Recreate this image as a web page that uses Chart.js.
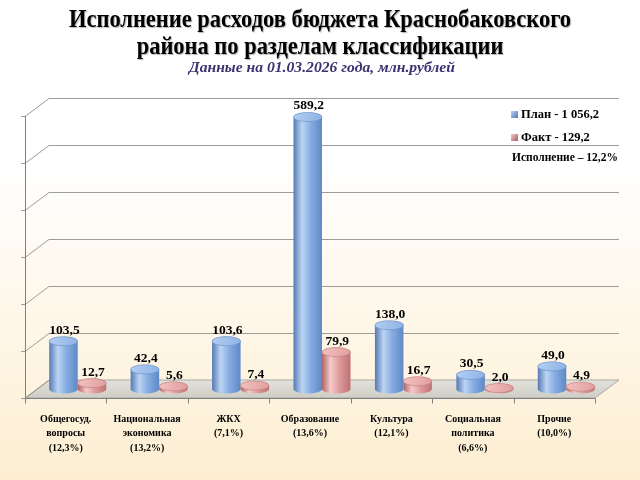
<!DOCTYPE html>
<html>
<head>
  <meta charset="utf-8">
  <title>Исполнение расходов бюджета</title>
  <script src="https://cdn.jsdelivr.net/npm/chart.js"></script>
  <style>
    html, body { margin: 0; padding: 0; background: #fff; }
    canvas { display: block; }
  </style>
</head>
<body>
  <canvas id="myChart" width="640" height="480"></canvas>

  <script>
    // данные с картинки
    const categories = [
      ['Общегосуд.', 'вопросы', '(12,3%)'],
      ['Национальная', 'экономика', '(13,2%)'],
      ['ЖКХ', '(7,1%)'],
      ['Образование', '(13,6%)'],
      ['Культура', '(12,1%)'],
      ['Социальная', 'политика', '(6,6%)'],
      ['Прочие', '(10,0%)']
    ];
    const plan = [103.5, 42.4, 103.6, 589.2, 138.0, 30.5, 49.0];
    const fact = [12.7, 5.6, 7.4, 79.9, 16.7, 2.0, 4.9];
    const seriesNames = ['План - 1 056,2', 'Факт - 129,2'];
    const execText = 'Исполнение – 12,2%';
    const titleLines = ['Исполнение расходов бюджета Краснобаковского', 'района по разделам классификации'];
    const subtitle = 'Данные на 01.03.2026 года, млн.рублей';

    const SERIF = '"Liberation Serif", "DejaVu Serif", serif';
    const DX = 12, DY = 9, WALL_K = 1.018;

    const palette = [
      { dark: '#5479b4', light: '#bcd4f3', mid: '#86ade2', right: '#5f88c6', top1: '#b3cff3', top2: '#8db2e6', edge: '#6a8fc6' },
      { dark: '#b06464', light: '#f5caca', mid: '#df9c9c', right: '#bd7272', top1: '#f3c2c2', top2: '#e19d9d', edge: '#c07a7a' }
    ];

    const fmt = v => v.toFixed(1).replace('.', ',');

    const scene = {
      id: 'scene',
      beforeDraw(chart) {
        const { ctx, width, height } = chart;
        const g = ctx.createLinearGradient(0, 0, 0, height);
        g.addColorStop(0, '#ffffff');
        g.addColorStop(0.35, '#ffffff');
        g.addColorStop(1, '#fdeed1');
        ctx.save();
        ctx.fillStyle = g;
        ctx.fillRect(0, 0, width, height);
        ctx.restore();
      },
      beforeDatasetsDraw(chart) {
        const { ctx, chartArea: a, scales: { y } } = chart;
        const y0 = y.getPixelForValue(0);
        const wy = v => y0 - (y0 - y.getPixelForValue(v)) * WALL_K;
        const L = a.left, R = a.right;
        ctx.save();

        // пол
        const fg = ctx.createLinearGradient(0, y0 - DY, 0, y0 + DY);
        fg.addColorStop(0, '#e3e3dc');
        fg.addColorStop(1, '#cdcdc5');
        ctx.beginPath();
        ctx.moveTo(L - DX, y0 + DY);
        ctx.lineTo(R - DX, y0 + DY);
        ctx.lineTo(R + DX, y0 - DY);
        ctx.lineTo(L + DX, y0 - DY);
        ctx.closePath();
        ctx.fillStyle = fg;
        ctx.fill();
        ctx.strokeStyle = '#a8a8a8';
        ctx.lineWidth = 1;
        ctx.stroke();

        // сетка на задней стенке и боковой
        ctx.strokeStyle = '#9c9c9c';
        for (let v = 0; v <= 600; v += 100) {
          const yy = Math.round(wy(v)) + 0.5;
          ctx.beginPath();
          if (v > 0) {
            ctx.moveTo(L + DX, yy - DY);
            ctx.lineTo(R + DX, yy - DY);
          }
          ctx.moveTo(L - DX, yy + DY);
          ctx.lineTo(L + DX, yy - DY);
          ctx.moveTo(L - DX - 4, yy + DY);
          ctx.lineTo(L - DX, yy + DY);
          ctx.stroke();
        }

        // вертикальная ось
        ctx.strokeStyle = '#808080';
        ctx.beginPath();
        ctx.moveTo(L - DX + 0.5, wy(600) + DY);
        ctx.lineTo(L - DX + 0.5, y0 + DY);
        ctx.stroke();

        // горизонтальная ось с делениями
        const fy = Math.round(y0 + DY) + 0.5;
        ctx.beginPath();
        ctx.moveTo(L - DX, fy);
        ctx.lineTo(R - DX, fy);
        const n = categories.length;
        for (let i = 0; i <= n; i++) {
          const xx = Math.round(L + (R - L) * i / n - DX) + 0.5;
          ctx.moveTo(xx, fy);
          ctx.lineTo(xx, fy + 5);
        }
        ctx.stroke();
        ctx.restore();
      },
      afterDatasetsDraw(chart) {
        const { ctx } = chart;
        ctx.save();
        chart.data.datasets.forEach((ds, di) => {
          const c = palette[di];
          chart.getDatasetMeta(di).data.forEach((bar, i) => {
            const w = bar.width, rx = w / 2, ry = w * 0.16;
            const x = bar.x, top = bar.y, base = bar.base;

            const bg = ctx.createLinearGradient(x - rx, 0, x + rx, 0);
            bg.addColorStop(0, c.dark);
            bg.addColorStop(0.3, c.light);
            bg.addColorStop(0.6, c.mid);
            bg.addColorStop(1, c.right);
            ctx.beginPath();
            ctx.moveTo(x - rx, top);
            ctx.lineTo(x - rx, base);
            ctx.ellipse(x, base, rx, ry, 0, Math.PI, 0, true);
            ctx.lineTo(x + rx, top);
            ctx.ellipse(x, top, rx, ry, 0, 0, Math.PI, true);
            ctx.closePath();
            ctx.fillStyle = bg;
            ctx.fill();

            const tg = ctx.createLinearGradient(x - rx, top - ry, x + rx, top + ry);
            tg.addColorStop(0, c.top1);
            tg.addColorStop(1, c.top2);
            ctx.beginPath();
            ctx.ellipse(x, top, rx, ry, 0, 0, Math.PI * 2);
            ctx.fillStyle = tg;
            ctx.fill();
            ctx.strokeStyle = c.edge;
            ctx.lineWidth = 0.6;
            ctx.stroke();

            ctx.fillStyle = '#000';
            ctx.font = 'bold 13.5px ' + SERIF;
            ctx.textAlign = 'center';
            ctx.textBaseline = 'alphabetic';
            ctx.fillText(fmt(ds.data[i]), x + 1, top - ry - 3);
          });
        });
        ctx.restore();
      },
      afterDraw(chart) {
        const { ctx } = chart;
        ctx.save();

        // заголовок
        ctx.font = 'bold 26px ' + SERIF;
        const sx = 502 / ctx.measureText(titleLines[0]).width;
        ctx.textAlign = 'center';
        ctx.textBaseline = 'middle';
        ctx.shadowColor = 'rgba(0,0,0,0.3)';
        ctx.shadowOffsetX = 1;
        ctx.shadowOffsetY = 1;
        ctx.shadowBlur = 1;
        ctx.fillStyle = '#000';
        titleLines.forEach((t, i) => {
          ctx.save();
          ctx.translate(320, 20 + i * 27);
          ctx.scale(sx, 1);
          ctx.fillText(t, 0, 0);
          ctx.restore();
        });
        ctx.shadowColor = 'transparent';

        ctx.font = 'italic bold 14.5px ' + SERIF;
        ctx.fillStyle = '#3d3170';
        const ss = 266 / ctx.measureText(subtitle).width;
        ctx.save();
        ctx.translate(322, 68);
        ctx.scale(Math.min(ss, 1.1), 1);
        ctx.fillText(subtitle, 0, 0);
        ctx.restore();

        // легенда
        ctx.textAlign = 'left';
        ctx.font = 'bold 12.5px ' + SERIF;
        seriesNames.forEach((name, i) => {
          const c = palette[i];
          const ly = 114 + i * 23;
          const mg = ctx.createLinearGradient(511, ly - 3, 518, ly + 3);
          mg.addColorStop(0, c.light);
          mg.addColorStop(1, c.dark);
          ctx.fillStyle = mg;
          ctx.fillRect(511, ly - 3, 7, 7);
          ctx.fillStyle = '#000';
          ctx.fillText(name, 521, ly + 1);
        });
        ctx.font = 'bold 11.5px ' + SERIF;
        ctx.fillText(execText, 512, 158);
        ctx.restore();
      }
    };

    const ctx = document.getElementById('myChart').getContext('2d');
    new Chart(ctx, {
      type: 'bar',
      data: {
        labels: categories,
        datasets: [
          { label: seriesNames[0], data: plan, backgroundColor: 'rgba(0,0,0,0)' },
          { label: seriesNames[1], data: fact, backgroundColor: 'rgba(0,0,0,0)' }
        ]
      },
      options: {
        responsive: false,
        animation: false,
        categoryPercentage: 0.7,
        barPercentage: 1.0,
        layout: { padding: { left: 37, right: 33, top: 112, bottom: 0 } },
        plugins: {
          legend: { display: false },
          tooltip: { enabled: false }
        },
        scales: {
          x: {
            grid: { display: false, drawTicks: false },
            border: { display: false },
            ticks: {
              color: '#000',
              font: { family: SERIF, size: 10, weight: 'bold', lineHeight: 1.45 },
              padding: 23,
              labelOffset: -DX,
              maxRotation: 0,
              autoSkip: false
            },
            afterFit(scale) { scale.height = 91; }
          },
          y: { display: false, min: 0, max: 600 }
        }
      },
      plugins: [scene]
    });
  </script>
</body>
</html>
